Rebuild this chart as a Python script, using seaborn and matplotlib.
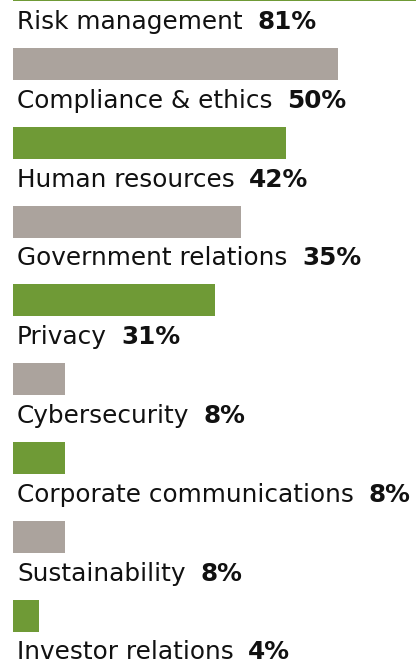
import matplotlib
matplotlib.use("Agg")
import matplotlib.pyplot as plt
import matplotlib.transforms as mtransforms
import seaborn as sns
import pandas as pd

categories = ["Risk management", "Compliance & ethics", "Human resources",
              "Government relations", "Privacy", "Cybersecurity",
              "Corporate communications", "Sustainability", "Investor relations"]
values = [81, 50, 42, 35, 31, 8, 8, 8, 4]
value_labels = ["81%", "50%", "42%", "35%", "31%", "8%", "8%", "8%", "4%"]

GREEN = "#6f9a36"
GRAY = "#aba39d"
colors = [GREEN if i % 2 == 0 else GRAY for i in range(len(categories))]

df = pd.DataFrame({"category": categories, "value": values})

sns.set_style("white")
plt.rcParams["font.family"] = ["DejaVu Sans"]

fig = plt.figure(figsize=(4.16, 6.62), dpi=100)
ax = fig.add_axes([0, 0, 1, 1])

sns.barplot(data=df, y="category", x="value", hue="category",
            palette=colors, orient="h", width=0.406, legend=False,
            ax=ax, saturation=1, linewidth=0)

ax.set_xlim(-2, 62)
ax.set_ylim(8.59, 0.188)
ax.set_axis_off()

trans = mtransforms.blended_transform_factory(ax.transAxes, ax.transData)
for i, (cat, lab) in enumerate(zip(categories, value_labels)):
    t = ax.text(17 / 416, i + 0.468, cat, transform=trans, fontsize=17.8,
                color="#111111", va="center", ha="left")
    ax.annotate(lab, xy=(1, 0.5), xycoords=t, xytext=(10.5, 0),
                textcoords="offset points", fontsize=17.8, fontweight="bold",
                color="#111111", va="center", ha="left")

fig.savefig("out.png", dpi=100)
